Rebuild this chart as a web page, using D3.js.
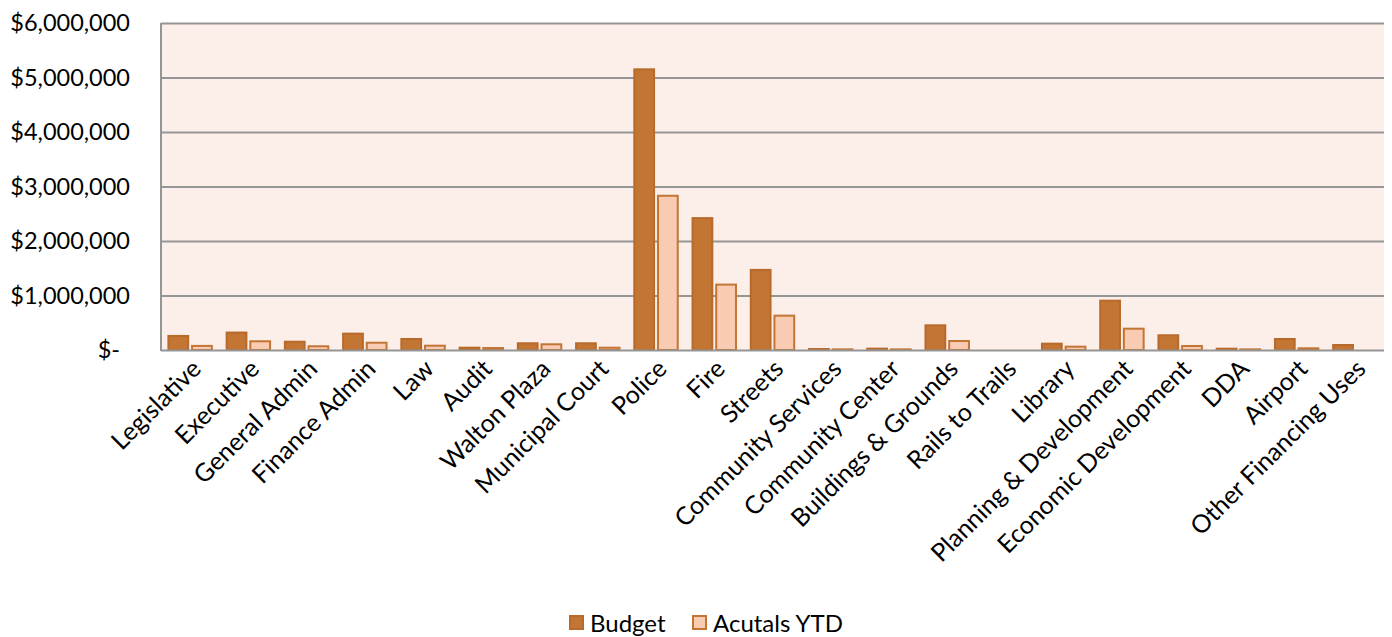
<!DOCTYPE html>
<html>
<head>
<meta charset="utf-8">
<script src="https://cdn.jsdelivr.net/npm/d3@7"></script>
<style>
  html, body { margin: 0; padding: 0; background: #ffffff; }
  svg { display: block; font-family: Lato, "Open Sans", sans-serif; }
</style>
</head>
<body>
<svg id="chart" width="1392" height="637"></svg>
<script>
// Departments and their budget vs. year-to-date actuals
const categories = [
  "Legislative", "Executive", "General Admin", "Finance Admin", "Law", "Audit",
  "Walton Plaza", "Municipal Court", "Police", "Fire", "Streets",
  "Community Services", "Community Center", "Buildings & Grounds", "Rails to Trails",
  "Library", "Planning & Development", "Economic Development", "DDA", "Airport",
  "Other Financing Uses"
];
const budget = [
  258000, 320000, 152000, 300000, 202000, 42000,
  123000, 123000, 5150000, 2420000, 1470000,
  18000, 25000, 453000, 0,
  116000, 905000, 270000, 24000, 202000,
  92000
];
const actualsYTD = [
  75000, 160000, 68000, 134000, 79000, 36000,
  105000, 42000, 2830000, 1200000, 630000,
  12000, 12000, 165000, 0,
  61000, 391000, 73000, 12000, 31000,
  0
];
const seriesNames = ["Budget", "Acutals YTD"];
const yTicks = [0, 1000000, 2000000, 3000000, 4000000, 5000000, 6000000];

const fills = ["#C37534", "#F9CBB2"];
const strokes = ["#B86A2B", "#C37534"];

const svg = d3.select("#chart");
const margin = { left: 161, top: 23, right: 8, bottom: 287 };
const W = 1392, H = 637;
const plotW = W - margin.left - margin.right;
const plotH = H - margin.top - margin.bottom;

const g = svg.append("g").attr("transform", `translate(${margin.left},${margin.top})`);

const x = d3.scaleBand().domain(categories).range([0, plotW]).paddingInner(0.22).paddingOuter(0.11);
const xs = d3.scaleBand().domain(seriesNames).range([0, x.bandwidth()]).paddingInner(0.08);
const y = d3.scaleLinear().domain([0, 6000000]).range([plotH, 0]);

// plot background
g.append("rect").attr("x", 0).attr("y", 0).attr("width", plotW).attr("height", plotH)
  .attr("fill", "#FCEEE9");

// gridlines
g.append("g").selectAll("line").data(yTicks.filter(d => d > 0)).join("line")
  .attr("x1", 0).attr("x2", plotW)
  .attr("y1", d => y(d) + 0.5).attr("y2", d => y(d) + 0.5)
  .attr("stroke", "#959595").attr("stroke-width", 2);

// y-axis labels
const fmt = d => d === 0 ? "$-" : "$" + d3.format(",")(d);
g.append("g").selectAll("text").data(yTicks).join("text")
  .attr("x", d => d === 0 ? -41 : -31)
  .attr("y", d => y(d))
  .attr("dy", "0.36em")
  .attr("text-anchor", "end")
  .attr("font-size", 23.5)
  .attr("fill", "#000")
  .text(fmt);

// bars
const data = categories.map((c, i) => ({ c, vals: [budget[i], actualsYTD[i]] }));
const groups = g.append("g").selectAll("g").data(data).join("g")
  .attr("transform", d => `translate(${x(d.c)},0)`);
groups.selectAll("rect")
  .data(d => d.vals.map((v, k) => ({ v, k })).filter(e => e.v > 0))
  .join("rect")
  .attr("x", e => xs(seriesNames[e.k]) + 1)
  .attr("width", xs.bandwidth() - 2)
  .attr("y", e => y(e.v))
  .attr("height", e => Math.max(0, plotH - y(e.v)))
  .attr("fill", e => fills[e.k])
  .attr("stroke", e => strokes[e.k])
  .attr("stroke-width", 2);

// axes lines
g.append("line").attr("x1", 0).attr("x2", 0).attr("y1", 0).attr("y2", plotH + 1)
  .attr("stroke", "#959595").attr("stroke-width", 2);
g.append("line").attr("x1", 0).attr("x2", plotW).attr("y1", plotH + 0.5).attr("y2", plotH + 0.5)
  .attr("stroke", "#959595").attr("stroke-width", 2);

// category labels
g.append("g").selectAll("text").data(categories).join("text")
  .attr("transform", d => `translate(${x(d) + x.bandwidth() / 2 + 0},${plotH + 8}) rotate(-45)`)
  .attr("text-anchor", "end")
  .attr("dy", "0.7em")
  .attr("font-size", 25)
  .attr("fill", "#000")
  .text(d => d);

// legend
const legend = svg.append("g").attr("transform", "translate(569,615)");
const legendItems = [{ name: seriesNames[0], x: 0 }, { name: seriesNames[1], x: 123 }];
legendItems.forEach((it, k) => {
  legend.append("rect").attr("x", it.x + 1).attr("y", 1).attr("width", 13).attr("height", 13)
    .attr("fill", fills[k]).attr("stroke", strokes[k]).attr("stroke-width", 2);
  legend.append("text").attr("x", it.x + 21).attr("y", 8).attr("dy", "0.36em")
    .attr("font-size", 24).attr("fill", "#000").text(it.name);
});
</script>
</body>
</html>
